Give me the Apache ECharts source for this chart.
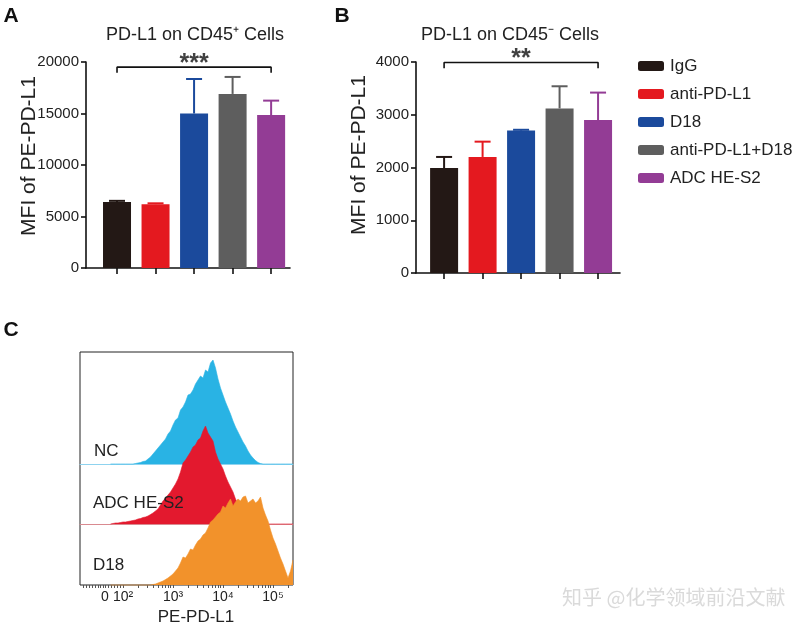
<!DOCTYPE html>
<html><head><meta charset="utf-8">
<script src="https://cdn.jsdelivr.net/npm/echarts@6/dist/echarts.min.js"></script>
<style>html,body{margin:0;padding:0;background:#fff}#c{width:804px;height:628px}</style>
</head><body><div id="c"></div>
<script>
// ---- data ----
const groups = ['IgG', 'anti-PD-L1', 'D18', 'anti-PD-L1+D18', 'ADC HE-S2'];
const groupColors = ['#231815', '#e4191f', '#1b4a9c', '#5e5e5e', '#933c95'];
const cd45posMean = [6400, 6200, 15000, 16900, 14850];
const cd45posErr  = [120, 80, 3350, 1650, 1400];
const cd45negMean = [1990, 2200, 2700, 3120, 2900];
const cd45negErr  = [210, 290, 15, 420, 520];
const sigA = { from: 0, to: 4, level: 19500, drop: 550, mark: '***' };
const sigB = { from: 0, to: 4, level: 3990, drop: 110, mark: '**' };

// flow histogram: channel positions (decades) and counts
const histBins = [
  1.75,1.80,1.85,1.90,1.95,2.00,2.05,2.10,2.15,2.20,
  2.25,2.30,2.35,2.40,2.45,2.50,2.55,2.60,2.65,2.70,
  2.75,2.80,2.85,2.90,2.95,3.00,3.05,3.10,3.15,3.20,
  3.25,3.30,3.35,3.40,3.45,3.50,3.55,3.60,3.65,3.70,
  3.75,3.80,3.85,3.90,3.95,4.00,4.05,4.10,4.15,4.20,
  4.25,4.30,4.35,4.40,4.45,4.50,4.55,4.60,4.65,4.70,
  4.75,4.80,4.85,4.90,4.95,5.00,5.05,5.10,5.15,5.20,
  5.25,5.30,5.35,5.40];
const histNC = [
  0,0,0,0,0,0,0,0,0,0,
  0.5,1,1.5,2.5,3,5,7,10,13,16,
  19,22,25,30,33,39,44,46,54,57,
  62,69,70,74,80,84,88,86,94,92,
  101,104,96,85,76,69,62,56,50,43,
  37,32,27,22,18,13,9,6,3.5,1.5,
  0.5,0,0,0,0,0,0,0,0,0,
  0,0,0,0];
const histADC = [
  0,0.5,1,1,1.5,2,2,2.5,3,3.5,
  4,5,5.5,6.5,7,8,9.5,11,13,15,
  19,23,26,29,32,36,40,45,52,61,
  64,68,72,77,79,84,86,93,98,91,
  87,83,72,65,60,55,48,42,37,32,
  25,20,14,10,6,3,1.5,0,0,0,
  0,0,0,0,0,0,0,0,0,0,
  0,0,0,0];
const histD18 = [
  0,0,0,0,0,0,0,0,0,0,
  0,0,0,0,0,0,0,0.5,1,2,
  3,4,5.5,7,9,11,14,17,22,28,
  27,31,36,35,40,44,46,50,52,57,
  63,65,68,71,73,79,77,82,86,79,
  83,86,84,88,89,82,84,86,82,84,
  88,77,70,64,55,47,41,34,27,21,
  14,7,14,25];
const histNames = ['NC', 'ADC HE-S2', 'D18'];
const histColors = ['#29b3e4', '#e3192e', '#f2922b'];
const histBaseColors = ['#8fd3ef', '#d98a90', '#f2922b'];
const flowLabelPos = [1.64, 2, 3, 4, 5];
const flowLabels = ['0', '10²', '10³', '10⁴', '10⁵'];

// ---- chart ----
const FONT = 'Liberation Sans, Arial, Helvetica, sans-serif';
const chart = echarts.init(document.getElementById('c'), null, { renderer: 'canvas' });

const flowTicks = [1.2,1.26,1.32,1.38,1.44,1.5,1.55,1.6,1.64,1.7,1.76,1.82,1.88,1.94];
for (let n = 2; n <= 5; n++) for (let k = 1; k <= 9; k++) { const v = n + Math.log10(k); if (v <= 5.4) flowTicks.push(v); }

function barAxisX(grid, min, max) {
  return { type: 'value', gridIndex: grid, min, max,
    axisLine: { show: true, onZero: false, lineStyle: { color: '#111', width: 1.6 } },
    axisTick: { show: true, customValues: [0,1,2,3,4], length: 6, lineStyle: { color: '#111', width: 1.6 } },
    axisLabel: { show: false }, splitLine: { show: false } };
}
function barAxisY(grid, max, interval) {
  return { type: 'value', gridIndex: grid, min: 0, max, interval,
    axisLine: { show: true, onZero: false, lineStyle: { color: '#111', width: 1.6 } },
    axisTick: { show: true, length: 5, lineStyle: { color: '#111', width: 1.6 } },
    axisLabel: { fontSize: 15, color: '#222', fontFamily: FONT, margin: 7, formatter: v => String(v) },
    splitLine: { show: false } };
}
function barSeries(means, axis) {
  return groups.map((g, i) => ({
    name: g, type: 'bar', xAxisIndex: axis, yAxisIndex: axis, barWidth: 28, barGap: '-100%',
    itemStyle: { color: groupColors[i] }, silent: true,
    data: [[i, means[i]]]
  }));
}
function errSeries(means, errs, axis) {
  return { type: 'custom', xAxisIndex: axis, yAxisIndex: axis, silent: true, z: 3,
    data: means.map((m, i) => [i, m, m + errs[i]]),
    renderItem(params, api) {
      const i = api.value(0);
      const base = api.coord([i, api.value(1)]);
      const top = api.coord([i, api.value(2)]);
      const c = groupColors[i];
      return { type: 'group', children: [
        { type: 'line', shape: { x1: base[0], y1: base[1], x2: top[0], y2: top[1] }, style: { stroke: c, lineWidth: 2 } },
        { type: 'line', shape: { x1: top[0] - 8, y1: top[1], x2: top[0] + 8, y2: top[1] }, style: { stroke: c, lineWidth: 2 } }
      ] };
    } };
}
function bracketSeries(s, axis) {
  return [{ type: 'line', xAxisIndex: axis, yAxisIndex: axis, symbol: 'none', silent: true, clip: false,
    lineStyle: { color: '#111', width: 1.6 },
    data: [[s.from, s.level - s.drop], [s.from, s.level], [s.to, s.level], [s.to, s.level - s.drop]] },
  { type: 'scatter', xAxisIndex: axis, yAxisIndex: axis, symbolSize: 0, silent: true,
    data: [[(s.from + s.to) / 2, s.level]],
    label: { show: true, position: 'top', distance: -9, formatter: s.mark, fontSize: 25, fontWeight: 'bold', color: '#111', fontFamily: FONT } }];
}

const histGrids = [
  { left: 80, width: 213, top: 359, height: 105 },
  { left: 80, width: 213, top: 419, height: 105 },
  { left: 80, width: 213, top: 480, height: 105 }
];
const histSeriesData = [histNC, histADC, histD18];

const option = {
  animation: false,
  backgroundColor: '#fff',
  grid: [
    { left: 86, top: 62, width: 204, height: 206 },
    { left: 416, top: 62, width: 204, height: 211 },
    { left: 80, top: 352, width: 213, height: 233, show: true, borderColor: '#222', borderWidth: 1, backgroundColor: 'transparent' },
    ...histGrids
  ],
  xAxis: [
    barAxisX(0, -0.805, 4.49),
    barAxisX(1, -0.73, 4.57),
    { type: 'value', gridIndex: 2, min: 1.14, max: 5.4,
      axisLine: { show: false },
      axisTick: { show: true, customValues: flowTicks, length: 3, lineStyle: { color: '#555', width: 1 } },
      axisLabel: { show: true, customValues: flowLabelPos, formatter: v => flowLabels[flowLabelPos.indexOf(v)], fontSize: 14, color: '#222', fontFamily: FONT, margin: 5 },
      splitLine: { show: false },
      name: 'PE-PD-L1', nameLocation: 'middle', nameGap: 24,
      nameTextStyle: { fontSize: 17, color: '#222', fontFamily: FONT, padding: [0, 0, 0, 19] } },
    ...histGrids.map((g, k) => ({ type: 'value', gridIndex: 3 + k, min: 1.14, max: 5.4, show: k < 2,
      axisLine: { show: true, onZero: false, lineStyle: { color: histBaseColors[k], width: 1 } },
      axisTick: { show: false }, axisLabel: { show: false }, splitLine: { show: false } }))
  ],
  yAxis: [
    barAxisY(0, 20000, 5000),
    barAxisY(1, 4000, 1000),
    { type: 'value', gridIndex: 2, show: false, min: 0, max: 1 },
    ...histGrids.map((g, k) => ({ type: 'value', gridIndex: 3 + k, min: 0, max: 105, show: false }))
  ],
  legend: {
    data: groups, orient: 'vertical', left: 633, top: 52, itemWidth: 26, itemHeight: 10, itemGap: 10,
    icon: 'roundRect', selectedMode: false,
    textStyle: { fontSize: 17, color: '#222', fontFamily: FONT, lineHeight: 18, padding: [0, 0, 0, 1] }
  },
  series: [
    ...barSeries(cd45posMean, 0),
    errSeries(cd45posMean, cd45posErr, 0),
    ...bracketSeries(sigA, 0),
    ...barSeries(cd45negMean, 1),
    errSeries(cd45negMean, cd45negErr, 1),
    ...bracketSeries(sigB, 1),
    ...histSeriesData.map((d, k) => ({
      name: histNames[k], type: 'line', xAxisIndex: 3 + k, yAxisIndex: 3 + k, symbol: 'none', silent: true,
      z: 2 + k, clip: false,
      lineStyle: { width: 0.6, color: histColors[k] },
      areaStyle: { color: histColors[k], opacity: 1 },
      data: histBins.map((b, i) => [b, d[i]])
    }))
  ],
  graphic: [
    { type: 'text', x: 11, y: 16, style: { text: 'A', fontSize: 21, fontWeight: 'bold', fill: '#111', fontFamily: FONT, align: 'center', verticalAlign: 'middle' } },
    { type: 'text', x: 342, y: 16, style: { text: 'B', fontSize: 21, fontWeight: 'bold', fill: '#111', fontFamily: FONT, align: 'center', verticalAlign: 'middle' } },
    { type: 'text', x: 11, y: 330, style: { text: 'C', fontSize: 21, fontWeight: 'bold', fill: '#111', fontFamily: FONT, align: 'center', verticalAlign: 'middle' } },
    { type: 'text', x: 195, y: 35, style: { text: 'PD-L1 on CD45⁺ Cells', fontSize: 18, fill: '#222', fontFamily: FONT, align: 'center', verticalAlign: 'middle' } },
    { type: 'text', x: 510, y: 35, style: { text: 'PD-L1 on CD45⁻ Cells', fontSize: 18, fill: '#222', fontFamily: FONT, align: 'center', verticalAlign: 'middle' } },
    { type: 'text', x: 29, y: 156, rotation: Math.PI / 2, style: { text: 'MFI of PE-PD-L1', fontSize: 21, fill: '#222', fontFamily: FONT, align: 'center', verticalAlign: 'middle' } },
    { type: 'text', x: 359, y: 155, rotation: Math.PI / 2, style: { text: 'MFI of PE-PD-L1', fontSize: 21, fill: '#222', fontFamily: FONT, align: 'center', verticalAlign: 'middle' } },
    { type: 'text', x: 94, y: 451, z: 10, style: { text: 'NC', fontSize: 17, fill: '#222', fontFamily: FONT, align: 'left', verticalAlign: 'middle' } },
    { type: 'text', x: 93, y: 503, z: 10, style: { text: 'ADC HE-S2', fontSize: 17, fill: '#222', fontFamily: FONT, align: 'left', verticalAlign: 'middle' } },
    { type: 'text', x: 93, y: 565, z: 10, style: { text: 'D18', fontSize: 17, fill: '#222', fontFamily: FONT, align: 'left', verticalAlign: 'middle' } },
    { type: 'text', x: 562, y: 597, z: 10, style: { text: '知乎 @化学领域前沿文献', fontSize: 20, fill: '#dadada', fontFamily: 'Noto Sans CJK SC', align: 'left', verticalAlign: 'middle',
      textShadowColor: 'rgba(0,0,0,0.22)', textShadowOffsetX: 1, textShadowOffsetY: 1, textShadowBlur: 0 } }
  ]
};
chart.setOption(option);
</script>
</body></html>
